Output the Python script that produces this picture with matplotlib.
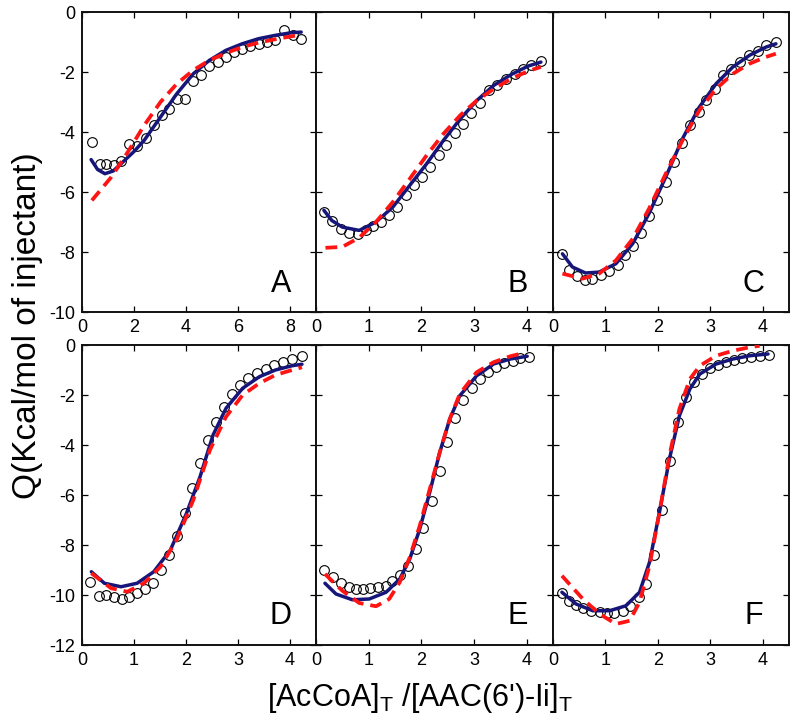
import matplotlib
matplotlib.use("Agg")
import matplotlib.pyplot as plt

plt.rcParams['font.family'] = ['Liberation Sans', 'DejaVu Sans']
plt.rcParams['axes.unicode_minus'] = False
plt.rcParams['mathtext.fontset'] = 'custom'
plt.rcParams['mathtext.rm'] = 'Liberation Sans'
plt.rcParams['lines.scale_dashes'] = False

# ---------------- data ----------------
panel_labels = ["A", "B", "C", "D", "E", "F"]

# Panel A
a_x = [0.38, 0.69, 0.94, 1.23, 1.51, 1.82, 2.11, 2.45, 2.77, 3.08, 3.33, 3.65, 3.96, 4.28,
       4.59, 4.88, 5.22, 5.53, 5.85, 6.16, 6.48, 6.79, 7.11, 7.42, 7.77, 8.11, 8.43]
a_y = [-4.33, -5.08, -5.08, -5.11, -4.98, -4.41, -4.47, -4.19, -3.78, -3.44, -3.22, -2.89, -2.89, -2.30,
       -2.11, -1.80, -1.67, -1.50, -1.33, -1.22, -1.14, -1.06, -1.00, -0.94, -0.59, -0.78, -0.89]
a_fit1_x = [0.35, 0.6, 0.88, 1.2, 1.5, 2.0, 2.39, 3.02, 3.65, 4.28, 4.9, 5.53, 6.16, 6.79, 7.42, 8.05, 8.43]
a_fit1_y = [-4.92, -5.25, -5.39, -5.3, -5.06, -4.65, -4.28, -3.5, -2.72, -2.06, -1.61, -1.28, -1.06, -0.89, -0.78, -0.69, -0.67]
a_fit2_x = [0.38, 1.13, 1.76, 2.39, 3.02, 3.65, 4.28, 4.9, 5.53, 6.16, 6.79, 7.42, 8.05, 8.43]
a_fit2_y = [-6.28, -5.5, -4.67, -3.78, -3.0, -2.39, -1.94, -1.61, -1.37, -1.17, -1.02, -0.91, -0.81, -0.76]

# Panel B
b_x = [0.15, 0.31, 0.47, 0.62, 0.79, 0.94, 1.08, 1.24, 1.38, 1.54, 1.71, 1.86, 2.01, 2.17,
       2.33, 2.47, 2.63, 2.79, 2.95, 3.12, 3.29, 3.44, 3.61, 3.77, 3.93, 4.09, 4.27]
b_y = [-6.67, -6.97, -7.22, -7.36, -7.39, -7.28, -7.14, -7.0, -6.78, -6.5, -6.09, -5.78, -5.5, -5.17,
       -4.78, -4.42, -4.03, -3.72, -3.37, -3.03, -2.61, -2.44, -2.24, -2.08, -1.89, -1.76, -1.63]
b_fit1_x = [0.15, 0.3, 0.5, 0.82, 1.14, 1.46, 1.78, 2.1, 2.42, 2.74, 3.06, 3.38, 3.71, 4.03, 4.27]
b_fit1_y = [-6.61, -6.95, -7.17, -7.28, -7.0, -6.5, -5.78, -5.06, -4.28, -3.56, -2.94, -2.44, -2.08, -1.8, -1.67]
b_fit2_x = [0.18, 0.5, 0.82, 1.14, 1.46, 1.78, 2.1, 2.42, 2.74, 3.06, 3.38, 3.71, 4.03, 4.27]
b_fit2_y = [-7.86, -7.83, -7.52, -7.0, -6.33, -5.56, -4.78, -4.06, -3.44, -2.94, -2.56, -2.22, -1.97, -1.83]

# Panel C
c_x = [0.18, 0.31, 0.46, 0.61, 0.75, 0.91, 1.07, 1.23, 1.38, 1.53, 1.68, 1.83, 1.99, 2.15,
       2.31, 2.46, 2.61, 2.78, 2.92, 3.08, 3.24, 3.4, 3.56, 3.73, 3.9, 4.06, 4.25]
c_y = [-8.06, -8.59, -8.81, -8.94, -8.89, -8.78, -8.63, -8.44, -8.11, -7.81, -7.37, -6.81, -6.28, -5.67,
       -5.0, -4.37, -3.78, -3.33, -2.94, -2.56, -2.11, -1.89, -1.67, -1.44, -1.3, -1.11, -1.0]
c_fit1_x = [0.18, 0.37, 0.62, 0.88, 1.2, 1.52, 1.83, 2.15, 2.47, 2.79, 3.11, 3.43, 3.75, 4.06, 4.25]
c_fit1_y = [-8.06, -8.5, -8.7, -8.67, -8.39, -7.72, -6.72, -5.5, -4.22, -3.17, -2.39, -1.83, -1.44, -1.17, -1.06]
c_fit2_x = [0.18, 0.56, 0.88, 1.2, 1.52, 1.83, 2.15, 2.47, 2.79, 3.11, 3.43, 3.75, 4.06, 4.25]
c_fit2_y = [-8.72, -8.89, -8.72, -8.28, -7.56, -6.56, -5.39, -4.28, -3.28, -2.56, -2.06, -1.72, -1.5, -1.39]

# Panel D
d_x = [0.16, 0.32, 0.46, 0.61, 0.76, 0.91, 1.06, 1.21, 1.36, 1.51, 1.68, 1.82, 1.98, 2.12,
       2.27, 2.42, 2.57, 2.73, 2.89, 3.04, 3.2, 3.37, 3.53, 3.69, 3.86, 4.04, 4.23]
d_y = [-9.47, -10.04, -10.0, -10.09, -10.17, -10.09, -9.93, -9.77, -9.51, -9.0, -8.4, -7.64, -6.73, -5.71,
       -4.73, -3.8, -3.07, -2.49, -1.96, -1.6, -1.33, -1.13, -0.97, -0.8, -0.67, -0.57, -0.44]
d_fit1_x = [0.18, 0.43, 0.75, 1.06, 1.38, 1.7, 2.01, 2.27, 2.52, 2.77, 3.09, 3.41, 3.72, 4.04, 4.23]
d_fit1_y = [-9.07, -9.53, -9.67, -9.53, -9.07, -8.2, -6.73, -5.27, -3.6, -2.53, -1.73, -1.27, -1.0, -0.83, -0.77]
d_fit2_x = [0.18, 0.56, 0.87, 1.19, 1.51, 1.82, 2.14, 2.46, 2.77, 3.09, 3.41, 3.72, 4.04, 4.23]
d_fit2_y = [-9.13, -9.73, -9.87, -9.53, -8.87, -7.8, -6.2, -4.2, -2.87, -2.0, -1.53, -1.2, -1.0, -0.89]

# Panel E
e_x = [0.15, 0.32, 0.47, 0.62, 0.76, 0.9, 1.03, 1.17, 1.32, 1.45, 1.59, 1.75, 1.9, 2.04,
       2.21, 2.36, 2.49, 2.64, 2.8, 2.96, 3.11, 3.27, 3.42, 3.57, 3.74, 3.88, 4.04]
e_y = [-8.99, -9.29, -9.53, -9.67, -9.76, -9.76, -9.73, -9.67, -9.63, -9.43, -9.2, -8.83, -8.16, -7.33,
       -6.23, -5.03, -3.87, -2.93, -2.2, -1.73, -1.36, -1.09, -0.89, -0.72, -0.63, -0.53, -0.49]
e_fit1_x = [0.17, 0.38, 0.69, 1.01, 1.33, 1.59, 1.78, 1.97, 2.16, 2.35, 2.54, 2.73, 3.05, 3.37, 3.69, 4.01]
e_fit1_y = [-9.53, -9.96, -10.19, -10.16, -9.89, -9.36, -8.56, -7.36, -5.89, -4.29, -2.96, -2.03, -1.23, -0.76, -0.56, -0.45]
e_fit2_x = [0.17, 0.5, 0.82, 1.14, 1.39, 1.59, 1.78, 1.97, 2.16, 2.35, 2.54, 2.73, 3.05, 3.37, 3.69, 3.94]
e_fit2_y = [-9.16, -9.83, -10.32, -10.45, -10.16, -9.49, -8.49, -7.23, -5.76, -4.29, -2.96, -1.96, -1.09, -0.69, -0.45, -0.32]

# Panel F
f_x = [0.17, 0.3, 0.44, 0.58, 0.73, 0.89, 1.03, 1.17, 1.33, 1.47, 1.64, 1.78, 1.92, 2.08,
       2.24, 2.38, 2.53, 2.68, 2.85, 3.0, 3.15, 3.29, 3.45, 3.61, 3.78, 3.94, 4.11]
f_y = [-9.92, -10.23, -10.4, -10.53, -10.63, -10.67, -10.72, -10.72, -10.65, -10.43, -10.09, -9.56, -8.4, -6.59,
       -4.63, -3.09, -2.09, -1.49, -1.16, -0.93, -0.79, -0.67, -0.59, -0.52, -0.47, -0.43, -0.4]
f_fit1_x = [0.17, 0.44, 0.76, 1.08, 1.39, 1.65, 1.84, 2.03, 2.22, 2.41, 2.61, 2.8, 3.11, 3.43, 3.75, 4.1]
f_fit1_y = [-9.89, -10.36, -10.63, -10.63, -10.43, -9.89, -8.69, -6.69, -4.56, -2.83, -1.76, -1.16, -0.76, -0.56, -0.43, -0.36]
f_fit2_x = [0.17, 0.57, 0.89, 1.2, 1.46, 1.65, 1.84, 2.03, 2.22, 2.41, 2.61, 2.8, 3.11, 3.43, 3.75, 3.94]
f_fit2_y = [-9.23, -10.16, -10.76, -11.16, -11.03, -10.29, -8.83, -6.69, -4.43, -2.56, -1.36, -0.83, -0.43, -0.23, -0.09, -0.03]

xticks_A = [0, 2, 4, 6, 8]
xticks_other = [0, 1, 2, 3, 4]
yticks_top = [0, -2, -4, -6, -8, -10]
yticks_bottom = [0, -2, -4, -6, -8, -10, -12]

panels = [
    (a_x, a_y, a_fit1_x, a_fit1_y, a_fit2_x, a_fit2_y),
    (b_x, b_y, b_fit1_x, b_fit1_y, b_fit2_x, b_fit2_y),
    (c_x, c_y, c_fit1_x, c_fit1_y, c_fit2_x, c_fit2_y),
    (d_x, d_y, d_fit1_x, d_fit1_y, d_fit2_x, d_fit2_y),
    (e_x, e_y, e_fit1_x, e_fit1_y, e_fit2_x, e_fit2_y),
    (f_x, f_y, f_fit1_x, f_fit1_y, f_fit2_x, f_fit2_y),
]

# ---------------- figure ----------------
W, H = 800, 725
fig = plt.figure(figsize=(8.0, 7.25), dpi=100)

col_edges = [82, 316, 553, 789]
row_edges = [(12, 312), (345, 645)]

for i, (px, py, f1x, f1y, f2x, f2y) in enumerate(panels):
    r, c = divmod(i, 3)
    x0, x1 = col_edges[c], col_edges[c + 1]
    top, bot = row_edges[r]
    ax = fig.add_axes([x0 / W, 1 - bot / H, (x1 - x0) / W, (bot - top) / H])
    ax.plot(px, py, linestyle='none', marker='o', markersize=7.0,
            markerfacecolor='none', markeredgecolor='black', markeredgewidth=0.8, zorder=2)
    ax.plot(f1x, f1y, color='#15157a', linewidth=2.5, solid_capstyle='round', zorder=3)
    ax.plot(f2x, f2y, color='#ff1414', linewidth=2.7, linestyle=(0, (8.5, 5.0)), zorder=4)

    if i == 0:
        ax.set_xlim(0, 9)
        ax.set_xticks(xticks_A)
    else:
        ax.set_xlim(0, 4.5)
        ax.set_xticks(xticks_other)
    if r == 0:
        ax.set_ylim(-10, 0)
        ax.set_yticks(yticks_top)
    else:
        ax.set_ylim(-12, 0)
        ax.set_yticks(yticks_bottom)
    ax.set_xticklabels([str(t) for t in ax.get_xticks().astype(int)])
    if c == 0:
        ax.set_yticklabels([str(t) for t in ax.get_yticks().astype(int)])
    else:
        ax.set_yticklabels([])

    ax.tick_params(direction='in', top=True, right=True, length=4, width=0.9,
                   labelsize=13, colors='black', pad=5)
    for s in ax.spines.values():
        s.set_linewidth(1.4)
        s.set_color('#111111')
    ax.text(0.85, 0.095, panel_labels[i], transform=ax.transAxes,
            ha='center', va='center', fontsize=22)

fig.text(28 / W, 1 - 326 / H, 'Q(Kcal/mol of injectant)', rotation=90,
         ha='center', va='center', fontsize=24)
fig.text(420 / W, 1 - 698 / H, "[AcCoA]$_\\mathrm{T}$ /[AAC(6')-Ii]$_\\mathrm{T}$",
         ha='center', va='center', fontsize=22)

fig.savefig('out.png', dpi=100)
